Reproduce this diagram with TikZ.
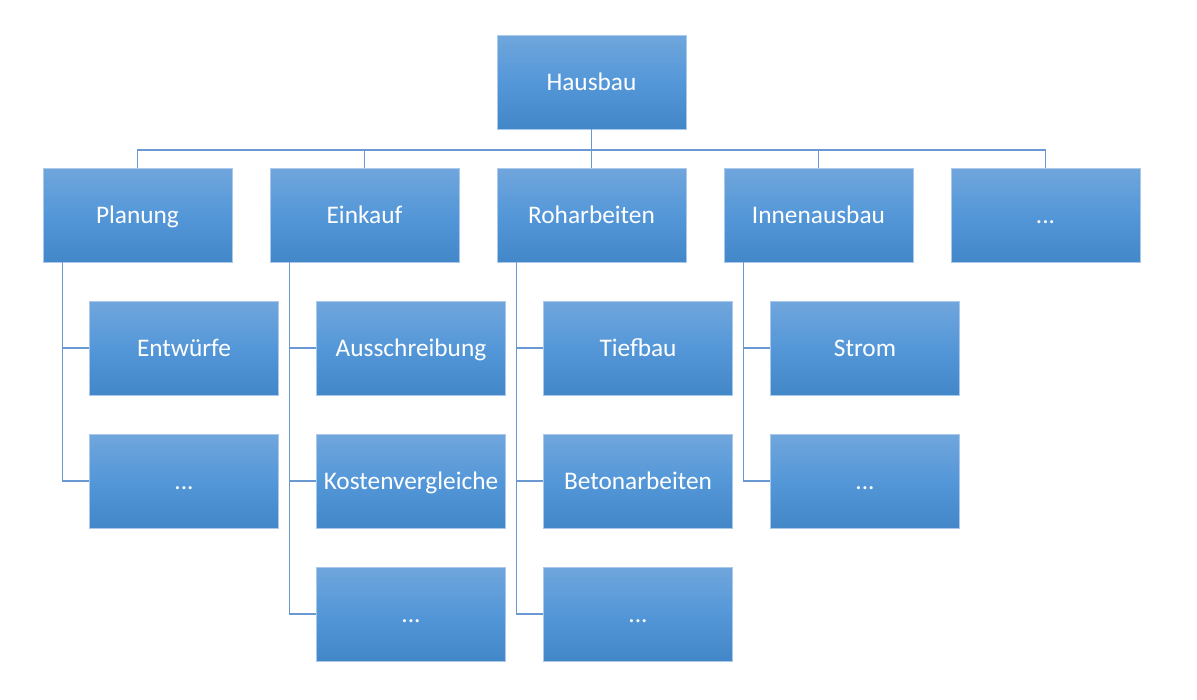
\documentclass[tikz,border=0pt]{standalone}
\usepackage{fontspec}
\setmainfont{Carlito}
\usepackage{xcolor}
\usetikzlibrary{calc}

\definecolor{boxtop}{RGB}{112,166,220}
\definecolor{boxmid}{RGB}{84,151,216}
\definecolor{boxbot}{RGB}{66,135,200}
\definecolor{boxline}{RGB}{170,200,235}
\definecolor{conline}{RGB}{105,152,210}

\tikzset{
  box/.style={rectangle, draw=boxline, line width=0.6pt,
    top color=boxtop, bottom color=boxbot, middle color=boxmid,
    minimum width=141.75pt, minimum height=70.5pt, inner sep=0pt,
    text height=16pt, text depth=3.1pt,
    text=white, font=\fontsize{19}{23}\selectfont},
  con/.style={draw=conline, line width=0.9pt}
}

\begin{document}
\begin{tikzpicture}[x=0.75pt,y=0.75pt,yscale=-1,xscale=1]
\useasboundingbox (0,0) rectangle (1197,700);

% top
\node[box] (haus) at (591.5,82) {Hausbau};

% first level
\node[box] (plan) at (137.5,215) {Planung};
\node[box] (eink) at (364.5,215) {Einkauf};
\node[box] (roh) at (591.5,215) {Roharbeiten};
\node[box] (innen) at (818.5,215) {Innenausbau};
\node[box] (more) at (1045.5,215) {...};

% second level
\node[box] (entw) at (184,348) {Entwürfe};
\node[box] (planx) at (184,481) {...};
\node[box] (aussch) at (411,348) {Ausschreibung};
\node[box] (kosten) at (411,481) {Kostenvergleiche};
\node[box] (einkx) at (411,614) {...};
\node[box] (tief) at (638,348) {Tiefbau};
\node[box] (beton) at (638,481) {Betonarbeiten};
\node[box] (rohx) at (638,614) {...};
\node[box] (strom) at (865,348) {Strom};
\node[box] (innenx) at (865,481) {...};

% connectors
\coordinate (bus) at (591.5,150);
\draw[con] (haus) -- (bus);
\foreach \n in {plan,eink,roh,innen,more}
  \draw[con] (bus) -| (\n.north);

\foreach \n in {entw,planx}
  \draw[con] ($(plan.south west)+(20,0)$) |- (\n.west);
\foreach \n in {aussch,kosten,einkx}
  \draw[con] ($(eink.south west)+(20,0)$) |- (\n.west);
\foreach \n in {tief,beton,rohx}
  \draw[con] ($(roh.south west)+(20,0)$) |- (\n.west);
\foreach \n in {strom,innenx}
  \draw[con] ($(innen.south west)+(20,0)$) |- (\n.west);

\end{tikzpicture}
\end{document}
